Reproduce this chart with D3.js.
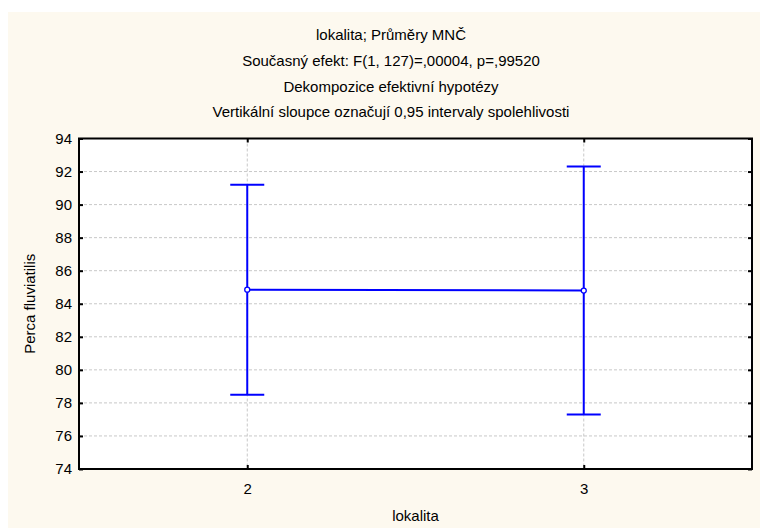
<!DOCTYPE html>
<html><head><meta charset="utf-8">
<script src="https://cdn.jsdelivr.net/npm/d3@7"></script>
<style>body{margin:0;background:#fff}text{font-family:Arial,"Liberation Sans",sans-serif}</style>
</head><body>
<svg id="c" width="760" height="530"></svg>
<script>
const titles = ["lokalita; Průměry MNČ","Současný efekt: F(1, 127)=,00004, p=,99520","Dekompozice efektivní hypotézy","Vertikální sloupce označují 0,95 intervaly spolehlivosti"];
const categories = ["2","3"];
const means = [84.85, 84.80];
const lower = [78.5, 77.3];
const upper = [91.2, 92.3];
const yTicks = [74,76,78,80,82,84,86,88,90,92,94];
const xLabel = "lokalita";
const yLabel = "Perca fluviatilis";

const FS = 15;
const svg = d3.select("#c");
svg.append("rect").attr("x",8).attr("y",12).attr("width",752).attr("height",516).attr("fill","#fdf9ef");
const L=79,R=752,T=138.5,B=469;
const x = d3.scalePoint().domain(categories).range([L,R]).padding(0.5);
const y = d3.scaleLinear().domain([74,94]).range([B,T]);
svg.append("rect").attr("x",L).attr("y",T).attr("width",R-L).attr("height",B-T).attr("fill","#fff");
// grid
svg.append("g").selectAll("line").data(yTicks.slice(1,-1)).join("line")
  .attr("x1",L).attr("x2",R).attr("y1",d=>y(d)).attr("y2",d=>y(d))
  .attr("stroke","#c8c8c8").attr("stroke-dasharray","3,2");
svg.append("g").selectAll("line").data(categories).join("line")
  .attr("x1",d=>x(d)).attr("x2",d=>x(d)).attr("y1",T).attr("y2",B)
  .attr("stroke","#c8c8c8").attr("stroke-dasharray","3,2");
// axes
const axL = d3.axisLeft(y).tickValues(yTicks).tickSizeInner(-4).tickSizeOuter(0).tickPadding(7);
const gL = svg.append("g").attr("transform",`translate(${L},0)`).call(axL);
const axR = d3.axisRight(y).tickValues(yTicks).tickSizeInner(-4).tickSizeOuter(0).tickFormat("");
const gR = svg.append("g").attr("transform",`translate(${R},0)`).call(axR);
const axB = d3.axisBottom(x).tickSizeInner(-4).tickSizeOuter(0).tickPadding(14);
const gB = svg.append("g").attr("transform",`translate(0,${B})`).call(axB);
const axT = d3.axisTop(x).tickSizeInner(-4).tickSizeOuter(0).tickFormat("");
const gT = svg.append("g").attr("transform",`translate(0,${T})`).call(axT);
[gL,gR,gB,gT].forEach(g=>{
  g.select(".domain").remove();
  g.selectAll("line").attr("stroke","#000").attr("stroke-width",2);
  g.selectAll("text").attr("font-size",FS).attr("fill","#000").attr("font-family","Arial, 'Liberation Sans', sans-serif");
});
svg.append("rect").attr("x",L).attr("y",T).attr("width",R-L).attr("height",B-T).attr("fill","none").attr("stroke","#000").attr("stroke-width",2);
// data
const blue="#0000ff";
const idx=categories.map((c,i)=>i);
svg.append("path").datum(idx).attr("fill","none").attr("stroke",blue).attr("stroke-width",2)
  .attr("d",d3.line().x(i=>x(categories[i])).y(i=>y(means[i])));
const eb=svg.append("g").attr("stroke",blue).attr("stroke-width",2);
eb.selectAll(".v").data(idx).join("line").attr("x1",i=>x(categories[i])).attr("x2",i=>x(categories[i])).attr("y1",i=>y(lower[i])).attr("y2",i=>y(upper[i]));
eb.selectAll(".u").data(idx).join("line").attr("x1",i=>x(categories[i])-17).attr("x2",i=>x(categories[i])+17).attr("y1",i=>y(upper[i])).attr("y2",i=>y(upper[i]));
eb.selectAll(".l").data(idx).join("line").attr("x1",i=>x(categories[i])-17).attr("x2",i=>x(categories[i])+17).attr("y1",i=>y(lower[i])).attr("y2",i=>y(lower[i]));
svg.append("g").selectAll("circle").data(idx).join("circle").attr("cx",i=>x(categories[i])).attr("cy",i=>y(means[i])).attr("r",2.5)
  .attr("fill","#fff").attr("stroke",blue).attr("stroke-width",1.3);
// titles
svg.append("g").selectAll("text").data(titles).join("text").attr("x",391).attr("y",(d,i)=>40+i*25.8)
  .attr("text-anchor","middle").attr("font-size",FS).text(d=>d);
svg.append("text").attr("x",(L+R)/2).attr("y",521).attr("text-anchor","middle").attr("font-size",FS).text(xLabel);
svg.append("text").attr("transform",`translate(35,${(T+B)/2}) rotate(-90)`).attr("text-anchor","middle").attr("font-size",FS).text(yLabel);
</script>
</body></html>
